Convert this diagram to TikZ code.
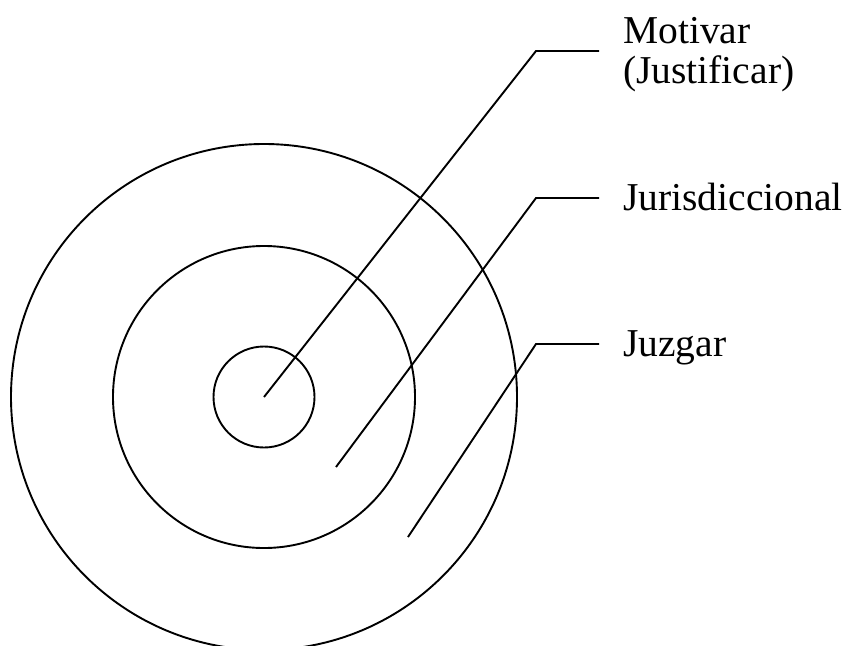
\documentclass[tikz,border=0pt]{standalone}
\usepackage{fontspec}
\setmainfont{Liberation Serif}
\begin{document}
\begin{tikzpicture}[x=1pt,y=-1pt,
  ring/.style={circle,draw,line width=1.9pt,inner sep=0pt},
  leader/.style={line width=1.9pt},
  lbl/.style={inner sep=0pt,anchor=base west,font=\fontsize{39.5}{40}\selectfont}]
\useasboundingbox (0,0) rectangle (850,645);
\coordinate (c) at (264,397);
\node[ring,minimum size=101pt] (inner) at (c) {};
\node[ring,minimum size=302pt] (middle) at (c) {};
\node[ring,minimum size=506pt] (outer) at (c) {};
% labels
\node[lbl,align=left] (mot) at (623,83) {Motivar\\(Justificar)};
\node[lbl] (jur) at (623,210) {Jurisdiccional};
\node[lbl] (juz) at (623,356) {Juzgar};
% leader lines
\coordinate (e1) at (536,51);  \coordinate (h1) at (599,51);
\coordinate (a2) at (336,467); \coordinate (e2) at (536,198); \coordinate (h2) at (599,198);
\coordinate (a3) at (408,537); \coordinate (e3) at (536,344); \coordinate (h3) at (599,344);
\draw[leader] (c) -- (e1) -- (h1);
\draw[leader] (a2) -- (e2) -- (h2);
\draw[leader] (a3) -- (e3) -- (h3);
\end{tikzpicture}
\end{document}
